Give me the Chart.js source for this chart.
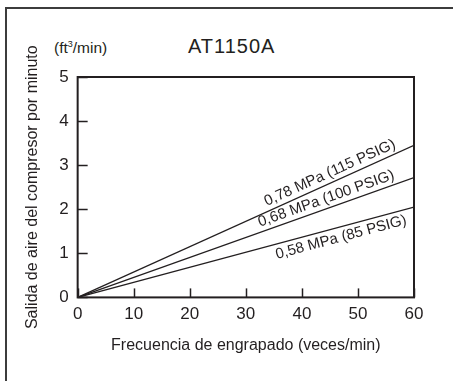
<!DOCTYPE html>
<html>
<head>
<meta charset="utf-8">
<script src="https://cdn.jsdelivr.net/npm/chart.js@4.4.1/dist/chart.umd.min.js"></script>
<style>
    html, body { margin: 0; padding: 0; background: #fff; }
    #wrap { position: relative; width: 453px; height: 381px; overflow: hidden; font-family: "Liberation Sans", Arial, sans-serif; color: #231f20; }
    #frame { position: absolute; left: 5px; top: 7px; right: -10px; bottom: -10px; border-left: 2px solid #3c3c3c; border-top: 2px solid #3c3c3c; }
    #title { position: absolute; left: 188px; top: 35px; font-size: 20px; letter-spacing: 1px; line-height: 22px; }
    #unit { position: absolute; left: 54px; top: 39px; font-size: 15.5px; line-height: 18px; }
    #unit sup { font-size: 9px; vertical-align: 6px; line-height: 0; }
    canvas { position: absolute; left: 0; top: 0; }
</style>
</head>
<body>
<div id="wrap">
    <div id="frame"></div>
    <div id="unit">(ft<sup>3</sup>/min)</div>
    <div id="title">AT1150A</div>
    <canvas id="airChart" width="453" height="381"></canvas>
</div>
<script>
// frequency (veces/min) at both ends of each line
const frequency = [0, 60];
// air output (ft3/min)
const output078 = [0, 3.45];
const output068 = [0, 2.72];
const output058 = [0, 2.05];
const seriesLabels = ['0,78 MPa (115 PSIG)', '0,68 MPa (100 PSIG)', '0,58 MPa (85 PSIG)'];
const xTicks = [0, 10, 20, 30, 40, 50, 60];
const yTicks = [0, 1, 2, 3, 4, 5];

const ink = '#231f20';

function points(values) {
    return frequency.map((f, i) => ({ x: f, y: values[i] }));
}

// plot box + inward tick marks
const boxPlugin = {
    id: 'boxPlugin',
    afterDraw(chart) {
        const ctx = chart.ctx;
        const a = chart.chartArea;
        const xs = chart.scales.x, ys = chart.scales.y;
        ctx.save();
        ctx.strokeStyle = ink;
        ctx.lineWidth = 1.5;
        xTicks.forEach(v => {
            const px = Math.round(xs.getPixelForValue(v)) + 0.5;
            ctx.beginPath(); ctx.moveTo(px, a.bottom); ctx.lineTo(px, a.bottom - 9); ctx.stroke();
        });
        yTicks.forEach(v => {
            const py = Math.round(ys.getPixelForValue(v)) + 0.5;
            ctx.beginPath(); ctx.moveTo(a.left, py); ctx.lineTo(a.left + 10, py); ctx.stroke();
        });
        ctx.lineWidth = 2;
        ctx.strokeRect(a.left, a.top, a.right - a.left, a.bottom - a.top);
        ctx.restore();
    }
};

// labels written along each line
const lineLabels = {
    id: 'lineLabels',
    afterDatasetsDraw(chart, args, opts) {
        const ctx = chart.ctx;
        const xs = chart.scales.x;
        ctx.save();
        ctx.fillStyle = ink;
        ctx.font = '15px "Liberation Sans", Arial, sans-serif';
        ctx.textAlign = 'center';
        chart.data.datasets.forEach((ds, i) => {
            const pts = chart.getDatasetMeta(i).data;
            const p0 = pts[0], p1 = pts[pts.length - 1];
            const ang = Math.atan2(p1.y - p0.y, p1.x - p0.x);
            const px = xs.getPixelForValue(opts.at[i]);
            const py = p0.y + (p1.y - p0.y) * (px - p0.x) / (p1.x - p0.x);
            ctx.save();
            ctx.translate(px, py);
            ctx.rotate(ang);
            if (opts.side[i] === 'above') {
                ctx.textBaseline = 'bottom';
                ctx.fillText(ds.label, 0, -2);
            } else {
                ctx.textBaseline = 'top';
                ctx.fillText(ds.label, 0, 3);
            }
            ctx.restore();
        });
        ctx.restore();
    }
};

const lineStyle = {
    showLine: true,
    borderColor: ink,
    borderWidth: 1.3,
    pointRadius: 0,
    fill: false,
    tension: 0
};

new Chart(document.getElementById('airChart'), {
    type: 'scatter',
    data: {
        datasets: [
            { label: seriesLabels[0], data: points(output078), ...lineStyle },
            { label: seriesLabels[1], data: points(output068), ...lineStyle },
            { label: seriesLabels[2], data: points(output058), ...lineStyle }
        ]
    },
    options: {
        responsive: false,
        animation: false,
        layout: { padding: { left: 10, right: 39, top: 77, bottom: 26 } },
        plugins: {
            legend: { display: false },
            tooltip: { enabled: false },
            lineLabels: { at: [45.7, 44.9, 46.5], side: ['above', 'above', 'below'] }
        },
        scales: {
            x: {
                type: 'linear',
                min: 0, max: 60,
                grid: { display: false, drawTicks: false },
                border: { display: false },
                ticks: { stepSize: 10, padding: 7, color: ink, font: { family: '"Liberation Sans", Arial, sans-serif', size: 17 } },
                title: {
                    display: true,
                    text: 'Frecuencia de engrapado (veces/min)',
                    color: ink,
                    font: { family: '"Liberation Sans", Arial, sans-serif', size: 16 },
                    padding: { top: 4, bottom: 0 }
                }
            },
            y: {
                type: 'linear',
                min: 0, max: 5,
                grid: { display: false, drawTicks: false },
                border: { display: false },
                ticks: { stepSize: 1, padding: 9, color: ink, font: { family: '"Liberation Sans", Arial, sans-serif', size: 17 } },
                title: {
                    display: true,
                    text: 'Salida de aire del compresor por minuto',
                    color: ink,
                    font: { family: '"Liberation Sans", Arial, sans-serif', size: 16 },
                    padding: { top: 13, bottom: 8 }
                }
            }
        }
    },
    plugins: [boxPlugin, lineLabels]
});
</script>
</body>
</html>
